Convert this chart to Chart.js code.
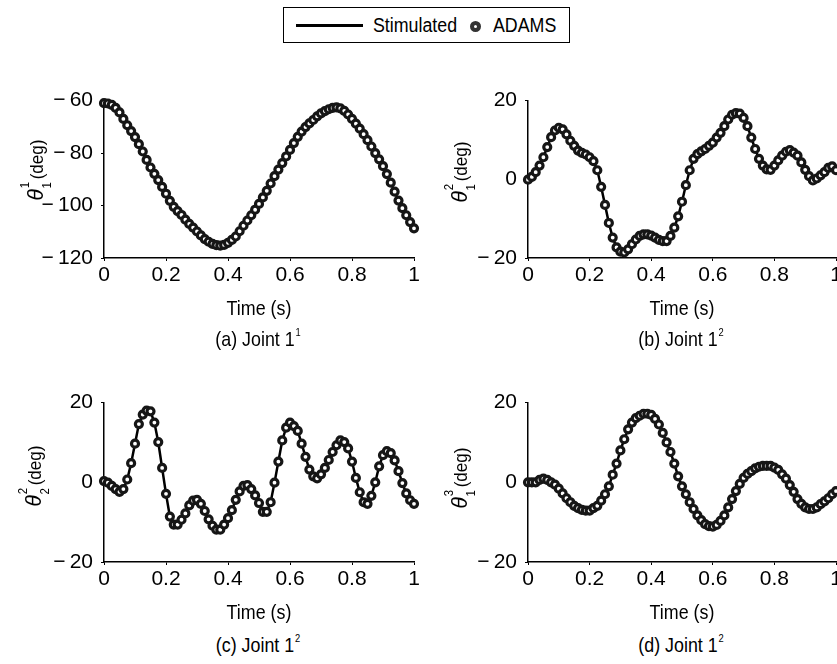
<!DOCTYPE html>
<html>
<head>
<meta charset="utf-8">
<script src="https://cdn.jsdelivr.net/npm/chart.js@4.4.1/dist/chart.umd.min.js"></script>
<style>
    html, body { margin: 0; padding: 0; background: #fff; }
    body { width: 837px; height: 664px; overflow: hidden; position: relative;
           font-family: 'Liberation Sans', Arial, sans-serif; color: #000; }
    canvas { position: absolute; }
    .legend { position: absolute; left: 283px; top: 7px; width: 285px; height: 34px; border: 1.5px solid #000; }
    .legend .line { position: absolute; left: 12px; top: 16px; width: 67px; height: 3px; background: #000; }
    .legend .txt { position: absolute; top: 5px; font-size: 20px; line-height: 24px; transform: scaleX(0.89); transform-origin: 0 50%; }
    .legend .mark { position: absolute; left: 186px; top: 13px; width: 3px; height: 3px; border: 4px solid #333; border-radius: 50%; background: #fff; }
    .ytitle { position: absolute; font-size: 18px; line-height: 24px; height: 24px; white-space: nowrap;
              transform: translate(-50%, -50%) rotate(-90deg) scaleX(0.95); }
    .ytitle .th { font-style: italic; font-size: 22px; }
    .ytitle .sp, .ytitle .sb { font-size: 12px; line-height: 0; }
    .ytitle .sp { vertical-align: 14px; margin-left: 1px; }
    .ytitle .sb { vertical-align: -8px; margin-left: -7px; margin-right: 3px; }
    .lbl { position: absolute; font-size: 21px; line-height: 24px; white-space: nowrap; transform: translate(-50%, -50%) scaleX(0.85); }
    .lbl sup { font-size: 11px; vertical-align: 10px; line-height: 0; margin-left: 1px; }
</style>
</head>
<body>
<div class="legend">
    <div class="line"></div>
    <div class="txt" style="left:89px">Stimulated</div>
    <div class="mark"></div>
    <div class="txt" style="left:209px">ADAMS</div>
</div>

<canvas id="chartA" width="390" height="248" style="left:34px; top:80px"></canvas>
<canvas id="chartB" width="388" height="248" style="left:458px; top:80px"></canvas>
<canvas id="chartC" width="390" height="250" style="left:34px; top:382px"></canvas>
<canvas id="chartD" width="388" height="250" style="left:458px; top:382px"></canvas>

<div class="ytitle" style="left:36px; top:170px"><span class="th">θ</span><span class="sp">1</span><span class="sb">1</span>(deg)</div>
<div class="ytitle" style="left:460px; top:172px"><span class="th">θ</span><span class="sp">2</span><span class="sb">1</span>(deg)</div>
<div class="ytitle" style="left:34px; top:476px"><span class="th">θ</span><span class="sp">2</span><span class="sb">2</span>(deg)</div>
<div class="ytitle" style="left:460px; top:478px"><span class="th">θ</span><span class="sp">3</span><span class="sb">1</span>(deg)</div>

<div class="lbl" style="left:259px; top:308px">Time (s)</div>
<div class="lbl" style="left:682px; top:308px">Time (s)</div>
<div class="lbl" style="left:259px; top:612px">Time (s)</div>
<div class="lbl" style="left:682px; top:612px">Time (s)</div>

<div class="lbl" style="left:258px; top:339px">(a) Joint 1<sup>1</sup></div>
<div class="lbl" style="left:681px; top:339px">(b) Joint 1<sup>2</sup></div>
<div class="lbl" style="left:258px; top:645px">(c) Joint 1<sup>2</sup></div>
<div class="lbl" style="left:681px; top:645px">(d) Joint 1<sup>2</sup></div>

<script>
const FONT = "'Liberation Sans', Arial, sans-serif";

// time samples (s)
const timeS = [0, 0.0125, 0.025, 0.0375, 0.05, 0.0625, 0.075, 0.0875, 0.1, 0.1125,
    0.125, 0.1375, 0.15, 0.1625, 0.175, 0.1875, 0.2, 0.2125, 0.225, 0.2375,
    0.25, 0.2625, 0.275, 0.2875, 0.3, 0.3125, 0.325, 0.3375, 0.35, 0.3625,
    0.375, 0.3875, 0.4, 0.4125, 0.425, 0.4375, 0.45, 0.4625, 0.475, 0.4875,
    0.5, 0.5125, 0.525, 0.5375, 0.55, 0.5625, 0.575, 0.5875, 0.6, 0.6125,
    0.625, 0.6375, 0.65, 0.6625, 0.675, 0.6875, 0.7, 0.7125, 0.725, 0.7375,
    0.75, 0.7625, 0.775, 0.7875, 0.8, 0.8125, 0.825, 0.8375, 0.85, 0.8625,
    0.875, 0.8875, 0.9, 0.9125, 0.925, 0.9375, 0.95, 0.9625, 0.975, 0.9875, 1];

// (a) theta_1^1 (deg)
const theta11 = [-61.0, -61.1, -61.6, -62.8, -64.5, -67.0, -69.4, -71.6, -73.9, -76.6,
    -79.4, -82.6, -85.5, -87.9, -90.3, -92.9, -95.5, -98.2, -100.5, -102.1,
    -103.6, -105.4, -107.0, -108.4, -109.9, -111.4, -112.8, -113.8, -114.6, -115.1,
    -115.3, -115.0, -114.2, -113.1, -111.8, -109.8, -107.7, -105.7, -103.7, -101.6,
    -99.4, -96.9, -94.4, -91.6, -88.8, -86.3, -83.8, -81.3, -78.8, -76.2,
    -73.8, -71.8, -70.1, -68.7, -67.4, -66.0, -64.9, -64.0, -63.3, -62.8,
    -62.6, -63.0, -63.9, -65.3, -67.0, -68.8, -70.7, -72.8, -75.1, -77.5,
    -80.0, -82.4, -85.0, -88.0, -91.3, -94.7, -98.1, -101.0, -103.7, -106.3, -108.7];

// (b) theta_1^2 (deg)
const theta12 = [-0.1, 0.6, 1.8, 3.5, 5.6, 8.2, 10.7, 12.4, 13.1, 12.7,
    11.4, 9.8, 8.5, 7.3, 6.7, 6.3, 5.6, 4.6, 2.3, -1.9,
    -6.5, -11.1, -14.8, -17.3, -18.4, -18.6, -17.8, -16.5, -15.3, -14.4,
    -14.0, -14.0, -14.3, -14.8, -15.4, -15.7, -15.7, -14.4, -12.3, -9.4,
    -5.7, -1.5, 2.3, 5.2, 6.4, 7.1, 7.7, 8.5, 9.3, 10.6,
    11.8, 13.5, 15.2, 16.4, 16.8, 16.7, 15.6, 13.5, 10.6, 7.7,
    5.2, 3.5, 2.5, 2.4, 3.5, 4.8, 6.0, 7.0, 7.4, 6.8,
    6.0, 4.3, 2.4, 0.8, -0.3, 0.2, 1.0, 1.8, 2.9, 3.3, 2.3];

// (c) theta_2^2 (deg)
const theta22 = [0.3, -0.1, -0.9, -1.7, -2.4, -1.7, 0.7, 4.8, 9.7, 14.6,
    17.0, 18.0, 17.8, 15.0, 10.1, 3.6, -2.9, -8.6, -10.6, -10.6,
    -9.4, -7.8, -5.8, -4.6, -4.4, -5.4, -7.2, -9.3, -10.9, -11.9,
    -11.9, -10.6, -9.0, -7.0, -4.4, -2.3, -0.9, -0.7, -1.7, -3.3,
    -5.2, -7.4, -7.4, -5.0, -0.1, 5.2, 10.5, 13.7, 15.0, 14.1,
    12.9, 9.7, 6.4, 3.2, 1.5, 1.0, 2.0, 3.6, 5.6, 7.6,
    9.3, 10.5, 10.1, 8.5, 5.2, 1.1, -2.5, -5.0, -5.4, -3.4,
    0.0, 4.0, 6.8, 7.8, 7.3, 5.5, 2.8, -0.2, -2.8, -4.5, -5.4];

// (d) theta_1^3 (deg)
const theta13 = [0.0, 0.0, 0.0, 0.6, 0.9, 0.6, 0.0, -0.6, -1.6, -2.8,
    -4.0, -5.0, -5.9, -6.5, -6.9, -7.1, -7.1, -6.5, -5.9, -4.6,
    -3.0, -1.0, 1.9, 4.7, 8.0, 10.8, 13.3, 15.0, 16.1, 16.7,
    17.2, 17.2, 16.9, 15.9, 14.5, 12.4, 10.0, 7.6, 4.7, 1.5,
    -1.0, -3.0, -5.0, -6.7, -8.3, -9.5, -10.5, -11.0, -11.1, -10.7,
    -9.7, -8.3, -6.3, -4.2, -2.2, -0.4, 1.1, 2.1, 2.8, 3.5,
    3.9, 4.1, 4.1, 4.1, 3.7, 3.1, 2.0, 0.9, -0.7, -2.4,
    -4.2, -5.4, -6.3, -6.7, -6.7, -6.3, -5.5, -4.8, -4.0, -3.0, -2.2];

const xTicks = [0, 0.2, 0.4, 0.6, 0.8, 1];

function toPoints(values) {
    return timeS.map((t, i) => ({ x: t, y: values[i] }));
}

function fmtNum(v) {
    const s = String(Math.round(Math.abs(v) * 10) / 10);
    return v < 0 ? '\u2212\u2009' + s : s;
}

function makeChart(id, values, yMin, yMax) {
    const grid = { display: true, drawOnChartArea: false, drawTicks: true, tickLength: 3, color: '#000', lineWidth: 1 };
    const border = { display: true, color: '#000', width: 1.5 };
    const tickFont = { family: FONT, size: 21 };

    return new Chart(document.getElementById(id), {
        type: 'line',
        data: {
            datasets: [{
                label: 'ADAMS',
                data: toPoints(values),
                showLine: false,
                pointStyle: 'circle',
                pointRadius: 3.5,
                pointBorderWidth: 3.2,
                pointBorderColor: '#161616',
                pointBackgroundColor: '#fff',
                clip: false,
                order: 0
            }, {
                label: 'Stimulated',
                data: toPoints(values),
                borderColor: '#000',
                borderWidth: 2.5,
                pointRadius: 0,
                tension: 0,
                clip: false,
                order: 1
            }]
        },
        options: {
            responsive: false,
            animation: false,
            events: [],
            layout: { autoPadding: false, padding: { left: 0, right: 10, top: 16, bottom: 0 } },
            plugins: { legend: { display: false }, tooltip: { enabled: false } },
            scales: {
                x: {
                    type: 'linear',
                    min: 0,
                    max: 1,
                    afterFit: s => { s.height = 70; },
                    afterBuildTicks: s => { s.ticks = xTicks.map(v => ({ value: v })); },
                    grid: grid,
                    border: border,
                    ticks: { color: '#000', font: tickFont, padding: 2, maxRotation: 0, callback: v => fmtNum(v) }
                },
                y: {
                    min: yMin,
                    max: yMax,
                    afterFit: s => { s.width = 70; },
                    grid: grid,
                    border: border,
                    ticks: { color: '#000', font: tickFont, stepSize: 20, padding: 8, callback: v => fmtNum(v) }
                }
            }
        }
    });
}

makeChart('chartA', theta11, -120, -60);
makeChart('chartB', theta12, -20, 20);
makeChart('chartC', theta22, -20, 20);
makeChart('chartD', theta13, -20, 20);
</script>
</body>
</html>
